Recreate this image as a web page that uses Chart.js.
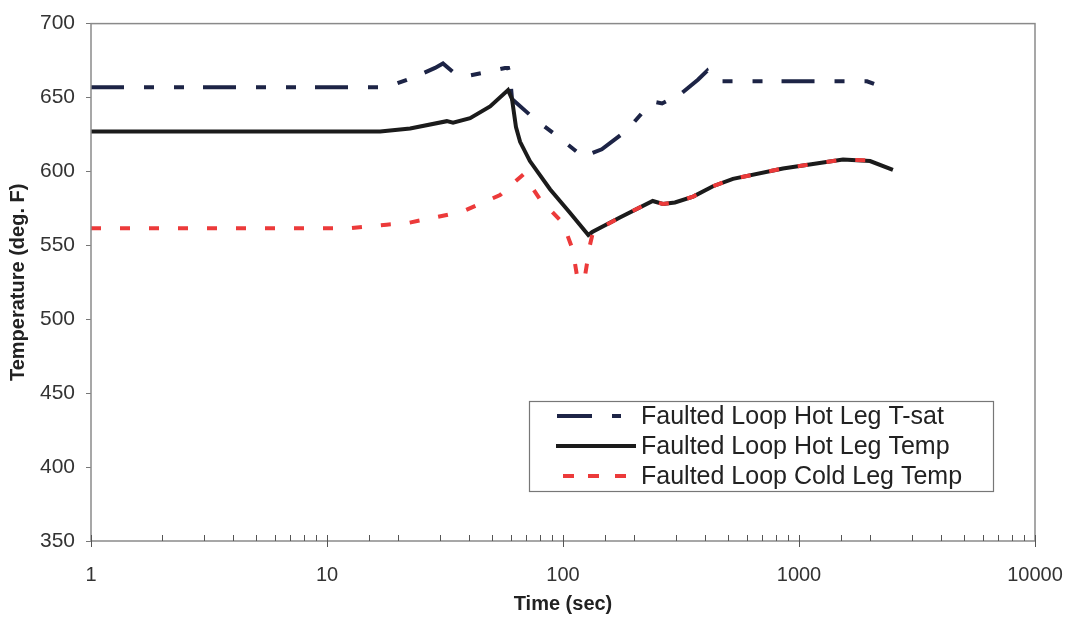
<!DOCTYPE html>
<html>
<head>
<meta charset="utf-8">
<script src="https://cdn.jsdelivr.net/npm/chart.js@4/dist/chart.umd.min.js"></script>
<style>
  html, body { margin: 0; padding: 0; background: #fff; }
  #wrap { width: 1072px; height: 620px; position: relative; }
</style>
</head>
<body>
<div id="wrap"><canvas id="tempChart"></canvas></div>
<script>
// Faulted loop temperatures (time in sec, temperature in deg F)
const tsatTime = [1, 16.8, 19.4, 23.6, 28.7, 31, 35.5, 40.4, 46.7, 56.8, 58.5, 59.6, 60.8, 73.9, 92.5, 121.5, 146, 187, 229, 245, 263, 313, 373, 408, 420, 454, 562, 1941, 2100, 2270];
const tsatTemp = [657, 657, 659, 664, 670, 673, 665, 665, 667, 670, 670, 665, 649, 637, 625, 610, 615, 628, 644, 647, 646, 652, 662, 668, 664, 661, 661, 661, 659, 656];

const hotTime = [1, 16.8, 22.5, 32.2, 34.2, 40.4, 49.1, 58.5, 60.8, 63.2, 65.8, 72.4, 88.1, 107, 128, 133, 175, 240, 265, 298, 356, 432, 525, 855, 1536, 2000, 2500];
const hotTemp = [627, 627, 629, 634, 633, 636, 644, 655, 649, 630, 620, 607, 588, 572, 557, 559, 569, 580, 578, 579, 583, 590, 595, 602, 608, 607, 601];

const coldTime = [1, 12.2, 17.9, 21.8, 31, 37.7, 54.1, 62.6, 68, 80, 100, 110, 115, 123, 130, 134, 175, 240, 265, 298, 356, 432, 525, 855, 1536, 2000, 2200];
const coldTemp = [561.5, 561.5, 564, 565, 570, 573, 584, 593, 598, 581, 565, 547, 528, 526, 550, 559, 569, 580, 578, 579, 583, 590, 595, 602, 608, 607.5, 606];

const xLabels = [1, 10, 100, 1000, 10000];
const yLabels = [350, 400, 450, 500, 550, 600, 650, 700];

const seriesNames = ['Faulted Loop Hot Leg T-sat', 'Faulted Loop Hot Leg Temp', 'Faulted Loop Cold Leg Temp'];

const toPoints = (xs, ys) => xs.map((x, i) => ({ x: x, y: ys[i] }));

// frame, inward x ticks and the boxed legend
const decorations = {
  id: 'decorations',
  afterDraw(chart) {
    const { ctx, chartArea: a, scales } = chart;
    ctx.save();
    ctx.strokeStyle = '#8a8a8a';
    ctx.lineWidth = 1.5;
    ctx.strokeRect(a.left, a.top, a.right - a.left, a.bottom - a.top);

    ctx.strokeStyle = '#555';
    ctx.lineWidth = 1;
    scales.x.ticks.forEach(t => {
      const px = Math.round(scales.x.getPixelForValue(t.value)) + 0.5;
      const major = xLabels.includes(t.value);
      ctx.beginPath();
      ctx.moveTo(px, a.bottom - 6);
      ctx.lineTo(px, a.bottom + (major ? 6 : 0));
      ctx.stroke();
    });

    // legend box
    const bx = 529, by = 401, bw = 464, bh = 90;
    ctx.fillStyle = '#fff';
    ctx.fillRect(bx, by, bw, bh);
    ctx.strokeStyle = '#777';
    ctx.lineWidth = 1.2;
    ctx.strokeRect(bx + 0.5, by + 0.5, bw, bh);

    const rows = [416, 446, 476];
    const ds = chart.data.datasets;
    rows.forEach((ry, i) => {
      ctx.strokeStyle = ds[i].borderColor;
      ctx.lineWidth = 4;
      ctx.lineCap = 'butt';
      ctx.beginPath();
      if (i === 0) {
        ctx.moveTo(557, ry); ctx.lineTo(592, ry);
        ctx.moveTo(612, ry); ctx.lineTo(621, ry);
      } else if (i === 1) {
        ctx.moveTo(556, ry); ctx.lineTo(636, ry);
      } else {
        [563, 588, 615].forEach(s => { ctx.moveTo(s, ry); ctx.lineTo(s + 11, ry); });
      }
      ctx.stroke();
      ctx.fillStyle = '#222';
      ctx.font = '25px "Liberation Sans", Arial, sans-serif';
      ctx.textBaseline = 'middle';
      ctx.fillText(seriesNames[i], 641, ry + 1);
    });
    ctx.restore();
  }
};

new Chart(document.getElementById('tempChart').getContext('2d'), {
  type: 'line',
  data: {
    datasets: [
      {
        label: seriesNames[0],
        data: toPoints(tsatTime, tsatTemp),
        borderColor: '#1d2446',
        borderWidth: 4,
        borderDash: [33, 20, 10, 20, 10, 19],
        order: 2
      },
      {
        label: seriesNames[1],
        data: toPoints(hotTime, hotTemp),
        borderColor: '#1b1b1b',
        borderWidth: 4,
        order: 1
      },
      {
        label: seriesNames[2],
        data: toPoints(coldTime, coldTemp),
        borderColor: '#ec3a3a',
        borderWidth: 4,
        borderDash: [10, 19],
        order: 0
      }
    ]
  },
  options: {
    responsive: true,
    maintainAspectRatio: false,
    animation: false,
    elements: { point: { radius: 0 }, line: { tension: 0, borderCapStyle: 'butt' } },
    layout: { padding: { top: 22, right: 37, left: 0, bottom: 0 } },
    plugins: { legend: { display: false }, tooltip: { enabled: false } },
    scales: {
      x: {
        type: 'logarithmic',
        min: 1,
        max: 10000,
        afterFit: s => { s.height = 79; s.paddingRight = 0; s.paddingLeft = 0; },
        grid: { display: false },
        border: { display: false },
        ticks: {
          autoSkip: false,
          maxRotation: 0,
          padding: 14,
          color: '#333',
          font: { family: '"Liberation Sans Narrow", "Liberation Sans", Arial, sans-serif', size: 20 },
          callback: v => xLabels.includes(v) ? String(v) : ''
        },
        title: {
          display: true,
          text: 'Time (sec)',
          color: '#222',
          padding: { top: 10 },
          font: { family: '"Liberation Sans Narrow", "Liberation Sans", Arial, sans-serif', size: 20, weight: 'bold' }
        }
      },
      y: {
        min: 350,
        max: 700,
        afterFit: s => { s.width = 91; },
        afterBuildTicks: s => { s.ticks = yLabels.map(v => ({ value: v })); },
        grid: { drawOnChartArea: false, tickLength: 5, color: '#777' },
        border: { display: false },
        ticks: {
          padding: 11,
          color: '#333',
          font: { family: '"Liberation Sans", Arial, sans-serif', size: 21 }
        },
        title: {
          display: true,
          text: 'Temperature (deg. F)',
          color: '#222',
          padding: { top: 6, bottom: 0 },
          font: { family: '"Liberation Sans", Arial, sans-serif', size: 20, weight: 'bold' }
        }
      }
    }
  },
  plugins: [decorations]
});
</script>
</body>
</html>
